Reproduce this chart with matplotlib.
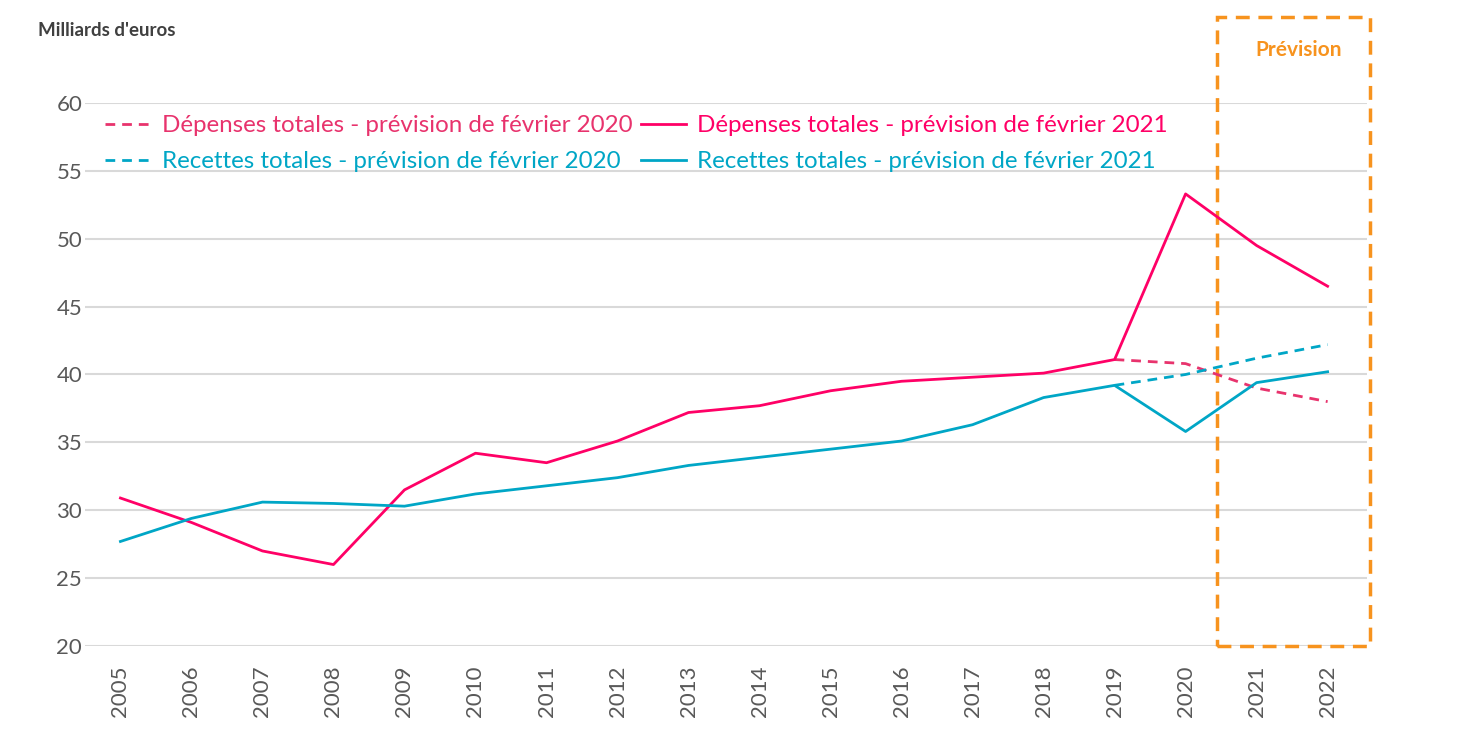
import matplotlib.pyplot as plt
from matplotlib.patches import Rectangle

# Donnees (milliards d'euros)
annees = list(range(2005, 2023))
depenses_2021 = [30.9, 29.1, 27.0, 26.0, 31.5, 34.2, 33.5, 35.1, 37.2, 37.7,
                 38.8, 39.5, 39.8, 40.1, 41.1, 53.3, 49.5, 46.5]
recettes_2021 = [27.7, 29.4, 30.6, 30.5, 30.3, 31.2, 31.8, 32.4, 33.3, 33.9,
                 34.5, 35.1, 36.3, 38.3, 39.2, 35.8, 39.4, 40.2]
annees_prev = [2019, 2020, 2021, 2022]
depenses_2020 = [41.1, 40.8, 39.0, 38.0]
recettes_2020 = [39.2, 40.0, 41.2, 42.2]

rose = '#FF0066'
rose_tir = '#E8336D'
cyan = '#00A6C6'
orange = '#F7931E'

plt.rcParams['font.family'] = ['Lato', 'DejaVu Sans']

fig = plt.figure(figsize=(14.57, 7.56), dpi=100)
ax = fig.add_axes([0.0583, 0.1455, 0.8797, 0.7183])

l1, = ax.plot(annees_prev, depenses_2020, color=rose_tir, lw=2.0, ls=(0, (3.5, 2.5)),
              label='Dépenses totales - prévision de février 2020')
l2, = ax.plot(annees, depenses_2021, color=rose, lw=2.0,
              label='Dépenses totales - prévision de février 2021')
l3, = ax.plot(annees_prev, recettes_2020, color=cyan, lw=2.0, ls=(0, (3.5, 2.5)),
              label='Recettes totales - prévision de février 2020')
l4, = ax.plot(annees, recettes_2021, color=cyan, lw=2.0,
              label='Recettes totales - prévision de février 2021')

ax.set_xlim(2004.5, 2022.55)
ax.set_ylim(20, 60)
ax.set_yticks(range(20, 61, 5))
ax.set_xticks(annees)
ax.set_xticklabels([str(a) for a in annees], rotation=90)
ax.tick_params(axis='both', length=0, labelsize=16, labelcolor='#595959')
ax.tick_params(axis='x', pad=14)
ax.tick_params(axis='y', pad=2)
ax.grid(axis='y', color='#D9D9D9', lw=1.5)
ax.set_axisbelow(True)
for s in ax.spines.values():
    s.set_visible(False)

# ordre colonne par colonne : 2020 a gauche, 2021 a droite
leg = ax.legend(handles=[l1, l3, l2, l4], ncol=2, loc='upper left',
                bbox_to_anchor=(-0.001, 1.017), frameon=False, fontsize=17.4,
                handlelength=1.9, handletextpad=0.45, columnspacing=0.32,
                labelspacing=0.62)
for txt, couleur in zip(leg.get_texts(), [rose_tir, cyan, rose, cyan]):
    txt.set_color(couleur)

# Cadre "Prévision"
cadre = Rectangle((2020.44, 20), 2.16, 46.3, fill=False, ec=orange, lw=2.5,
                  ls=(0, (4, 2.5)), clip_on=False)
ax.add_patch(cadre)
fig.text(0.891, 0.934, 'Prévision', color=orange, fontsize=15,
         fontweight='bold', ha='center', va='center')

fig.text(0.026, 0.960, "Milliards d'euros", color='#404040', fontsize=13.5,
         fontweight='bold', ha='left', va='center')

fig.savefig('out.png', dpi=100)
